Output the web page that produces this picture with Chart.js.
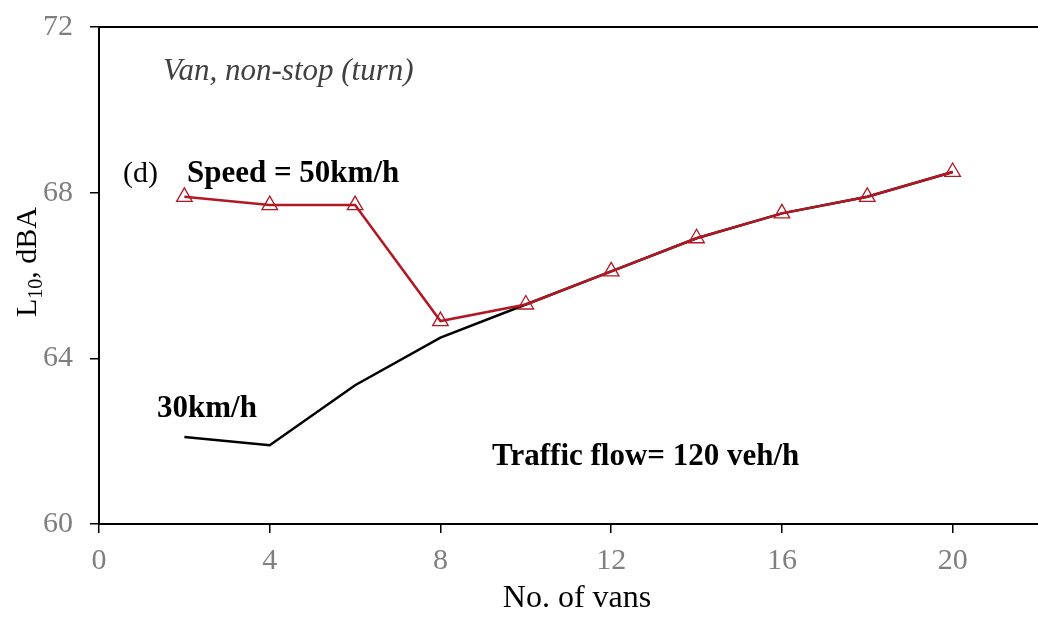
<!DOCTYPE html>
<html>
<head>
<meta charset="utf-8">
<script src="https://cdn.jsdelivr.net/npm/chart.js@4"></script>
<style>
  html, body { margin: 0; padding: 0; background: #fff; overflow: hidden; }
  #wrap { width: 1038px; height: 619px; }
</style>
</head>
<body>
<div id="wrap"><canvas id="chart"></canvas></div>
<script>
const vans = [2, 4, 6, 8, 10, 12, 14, 16, 18, 20]
const speed50 = [67.9, 67.7, 67.7, 64.9, 65.3, 66.1, 66.9, 67.5, 67.9, 68.5]
const speed30 = [62.1, 61.9, 63.35, 64.5, 65.3, 66.1, 66.9, 67.5, 67.9, 68.5]
const xTicks = [0, 4, 8, 12, 16, 20]
const yTicks = [60, 64, 68, 72]

const serif = "'Liberation Serif', 'Times New Roman', serif"
const red = 'rgb(178, 24, 36)'

// labels placed inside the plot, in data units (x start, baseline y)
const notes = [
  { text: 'Van, non-stop (turn)', x: 1.5, y: 70.72, font: 'italic 31px ' + serif, color: '#404040' },
  { text: '(d)', x: 0.56, y: 68.26, font: '30px ' + serif, color: '#000' },
  { text: 'Speed = 50km/h', x: 2.06, y: 68.26, font: 'bold 31px ' + serif, color: '#000' },
  { text: '30km/h', x: 1.36, y: 62.58, font: 'bold 31px ' + serif, color: '#000' },
  { text: 'Traffic flow= 120 veh/h', x: 9.21, y: 61.42, font: 'bold 31px ' + serif, color: '#000' }
]

const extras = {
  id: 'extras',
  afterDraw(chart) {
    const { ctx, chartArea, scales } = chart
    ctx.save()
    // top frame line
    ctx.strokeStyle = '#000'
    ctx.lineWidth = 2
    ctx.beginPath()
    ctx.moveTo(chartArea.left - 1, chartArea.top)
    ctx.lineTo(chartArea.right, chartArea.top)
    ctx.stroke()

    ctx.textBaseline = 'alphabetic'
    ctx.textAlign = 'left'
    notes.forEach(n => {
      ctx.font = n.font
      ctx.fillStyle = n.color
      ctx.fillText(n.text, scales.x.getPixelForValue(n.x), scales.y.getPixelForValue(n.y))
    })

    // x title
    ctx.textAlign = 'center'
    ctx.font = '32px ' + serif
    ctx.fillStyle = '#000'
    ctx.fillText('No. of vans', 577, 607)

    // y title with subscript
    ctx.textAlign = 'left'
    ctx.translate(26, 262)
    ctx.rotate(-Math.PI / 2)
    const parts = [['L', '30px ' + serif, 0], ['10', '20px ' + serif, 6], [', dBA', '30px ' + serif, 0]]
    let w = 0
    parts.forEach(p => { ctx.font = p[1]; w += ctx.measureText(p[0]).width })
    let x = -w / 2
    parts.forEach(p => {
      ctx.font = p[1]
      ctx.fillText(p[0], x, 10 + p[2])
      x += ctx.measureText(p[0]).width
    })
    ctx.restore()
  }
}

new Chart(document.getElementById('chart'), {
  type: 'line',
  data: {
    datasets: [
      {
        label: 'Speed = 50km/h',
        data: vans.map((v, i) => ({ x: v, y: speed50[i] })),
        borderColor: red,
        borderWidth: 2.5,
        pointStyle: 'triangle',
        pointRadius: 9,
        pointBorderColor: red,
        pointBackgroundColor: 'rgba(255,255,255,0)',
        pointBorderWidth: 1.3
      },
      {
        label: '30km/h',
        data: vans.map((v, i) => ({ x: v, y: speed30[i] })),
        borderColor: '#000',
        borderWidth: 2.5,
        pointRadius: 0
      }
    ]
  },
  plugins: [extras],
  options: {
    responsive: true,
    maintainAspectRatio: false,
    animation: false,
    layout: { autoPadding: false, padding: { top: 27, right: 0, left: 0, bottom: 0 } },
    plugins: { legend: { display: false }, tooltip: { enabled: false } },
    scales: {
      x: {
        type: 'linear',
        min: 0,
        max: 22,
        afterBuildTicks: s => { s.ticks = xTicks.map(v => ({ value: v })) },
        afterFit: s => { s.height = 95; s.paddingRight = 0; s.paddingLeft = 0 },
        grid: { drawOnChartArea: false, drawTicks: true, tickLength: 9, color: '#000', lineWidth: 1.5 },
        border: { color: '#000', width: 2 },
        ticks: { color: '#7f7f7f', padding: 10, font: { family: serif, size: 30 } }
      },
      y: {
        min: 60,
        max: 72,
        afterBuildTicks: s => { s.ticks = yTicks.map(v => ({ value: v })) },
        afterFit: s => { s.width = 99; s.paddingTop = 0; s.paddingBottom = 0 },
        grid: { drawOnChartArea: false, drawTicks: true, tickLength: 9, color: '#000', lineWidth: 1.5 },
        border: { color: '#000', width: 2 },
        ticks: { color: '#7f7f7f', padding: 17, font: { family: serif, size: 30 } }
      }
    }
  }
})
</script>
</body>
</html>
